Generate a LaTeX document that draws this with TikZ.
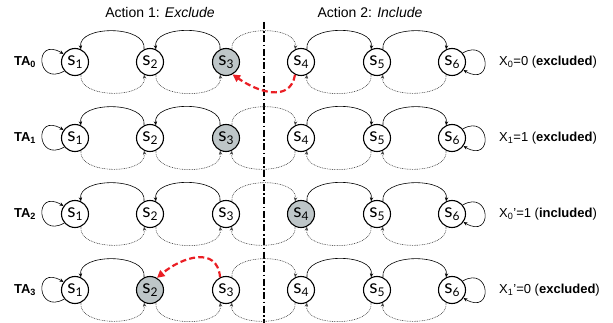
\documentclass[tikz,border=0pt]{standalone}
\usepackage{fontspec}
\setmainfont{Liberation Sans}
\newfontfamily\statefont{Lato}
\usetikzlibrary{arrows.meta}

\definecolor{stategray}{RGB}{190,198,200}
\definecolor{movered}{RGB}{234,30,36}

\tikzset{
  state/.style={circle, draw, line width=1.1pt, minimum size=27pt, inner sep=0pt},
  arc/.style={line width=0.6pt, -{Stealth[length=4pt,width=3.4pt]}},
  solidarc/.style={arc, black},
  dotarc/.style={arc, black!75, dash pattern=on 0.8pt off 0.9pt},
  move/.style={line width=2.2pt, movered, dash pattern=on 6pt off 3.2pt,
    -{Triangle[length=7.5pt,width=7.5pt]}},
  upL/.style={out=82, in=98, looseness=1.0},
  upR/.style={out=98, in=82, looseness=1.0},
  lowR/.style={out=-98, in=-82, looseness=1.0},
  lowL/.style={out=-82, in=-98, looseness=1.0},
  rowlabel/.style={font=\fontsize{13}{13}\selectfont\bfseries, inner sep=0pt},
  xlabel/.style={font=\fontsize{13}{13}\selectfont, anchor=west, inner sep=0pt},
  title/.style={font=\fontsize{14}{14}\selectfont, inner sep=0pt},
  divider/.style={line width=1.2pt, dash pattern=on 7pt off 2.5pt on 1.5pt off 2.5pt},
}

\begin{document}
\begin{tikzpicture}[x=1pt, y=-1pt]
\useasboundingbox (0,0) rectangle (613,323);

% column headings
\node[title] (act1) at (160,13) {Action 1: \textit{Exclude}};
\node[title] (act2) at (370,13) {Action 2: \textit{Include}};

% separator between the two actions
\coordinate (divtop) at (264,22);
\coordinate (divbot) at (264,323);
\draw[divider] (divtop) -- (divbot);

% one chain of six states per row; \hi marks the shaded state
\foreach \r/\yy/\hi in {0/62/3, 1/138/3, 2/214/4, 3/290/2}{
  \foreach \i/\xx in {1/75, 2/150, 3/226, 4/301, 5/377, 6/452}{
    \ifnum\i=\hi \def\nfill{stategray}\else\def\nfill{white}\fi
    \node[state, fill=\nfill] (n\r\i) at (\xx,\yy)
      {\statefont\fontsize{19}{19}\selectfont s\raisebox{-3.5pt}{\fontsize{12}{12}\selectfont\i}};
  }
  \node[rowlabel] (ta\r) at (25,\yy) {TA\textsubscript{\r}};

  % upper arcs
  \draw[solidarc] (n\r2.115) to[upL] (n\r1.65);
  \ifnum\r=3 \else \draw[solidarc] (n\r3.115) to[upL] (n\r2.65); \fi
  \draw[dotarc] (n\r3.65) to[upR] (n\r4.115);
  \draw[solidarc] (n\r4.65) to[upR] (n\r5.115);
  \draw[solidarc] (n\r5.65) to[upR] (n\r6.115);

  % lower arcs
  \draw[dotarc] (n\r1.-65) to[lowR] (n\r2.-115);
  \draw[dotarc] (n\r2.-65) to[lowR] (n\r3.-115);
  \ifnum\r=0 \else \draw[dotarc] (n\r4.-115) to[lowL] (n\r3.-65); \fi
  \draw[dotarc] (n\r5.-115) to[lowL] (n\r4.-65);
  \draw[dotarc] (n\r6.-115) to[lowL] (n\r5.-65);

  % self-loops at both ends
  \draw[solidarc] (n\r1.-140) .. controls +(-28,16) and +(-30,-18) .. (n\r1.145);
  \draw[solidarc] (n\r6.40) .. controls +(28,-16) and +(30,18) .. (n\r6.-35);
}

% highlighted moves
\draw[move] (n04.-115) to[out=-100, in=-35, looseness=1.2] (n03.-62);
\draw[move] (n33.115) to[out=95, in=40, looseness=1.3] (n32.60);

% outcome of each row
\node[xlabel] (x0) at (499,62) {X\textsubscript{0}=0 (\textbf{excluded})};
\node[xlabel] (x1) at (499,138) {X\textsubscript{1}=1 (\textbf{excluded})};
\node[xlabel] (x2) at (499,214) {X\textsubscript{0}'=1 (\textbf{included})};
\node[xlabel] (x3) at (499,290) {X\textsubscript{1}'=0 (\textbf{excluded})};
\end{tikzpicture}
\end{document}
